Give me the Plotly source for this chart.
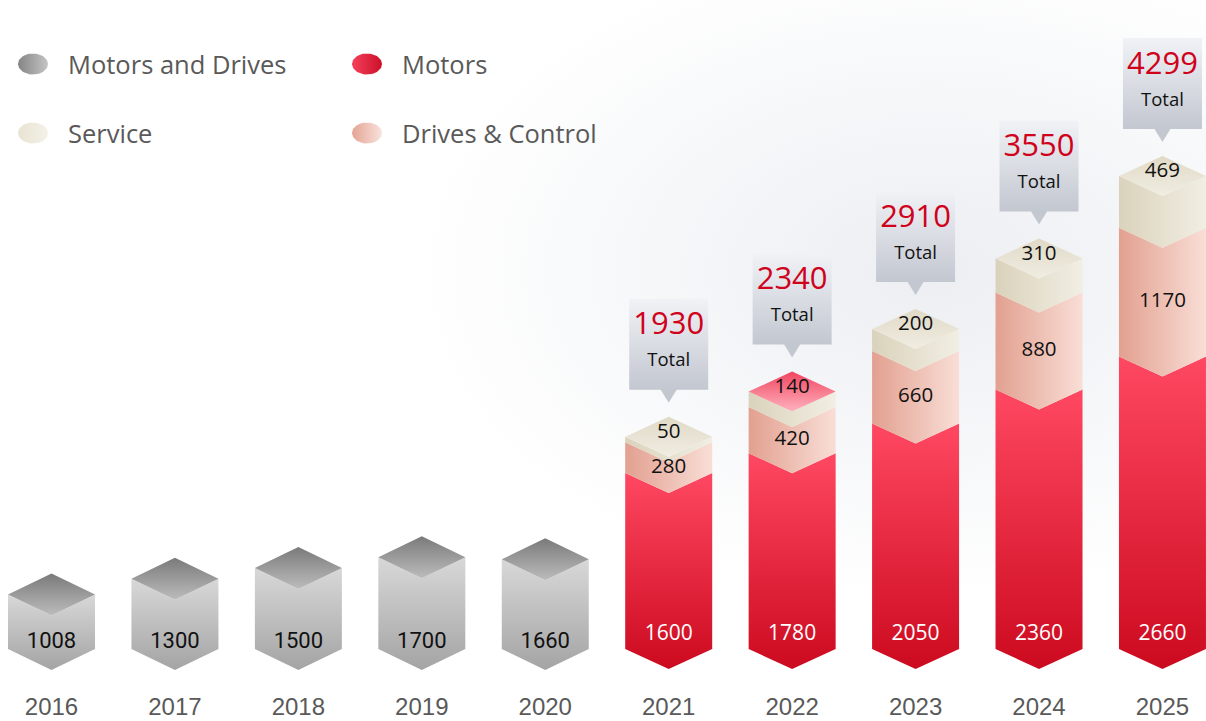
import numpy as np
import plotly.graph_objects as go

# ---------------- data ----------------
years = ["2016", "2017", "2018", "2019", "2020", "2021", "2022", "2023", "2024", "2025"]
md_years = ["2016", "2017", "2018", "2019", "2020"]
md_values = [1008, 1300, 1500, 1700, 1660]          # Motors and Drives
seg_years = ["2021", "2022", "2023", "2024", "2025"]
motors = [1600, 1780, 2050, 2360, 2660]
drives = [280, 420, 660, 880, 1170]                 # Drives & Control
service = [50, 140, 200, 310, 469]
totals = [1930, 2340, 2910, 3550, 4299]
legend_labels = ["Motors and Drives", "Motors", "Service", "Drives & Control"]
total_word = "Total"

# ---------------- geometry / style ----------------
W, H = 1206, 721
X0_PX, DX_PX = 51.5, 123.44        # first category centre, spacing (px)
BAR_W_PX = 87
BASE_PX = 649                      # pixel row of value 0
KG, KR = 0.054, 0.11               # px per unit (grey cubes / red stacks)
DEPTH_PX = 20

hw = BAR_W_PX / 2 / DX_PX
dg = 21 / KG
dr = DEPTH_PX / KR

GREY_BODY = [[0, "#a4a4a4"], [1, "#d8d8d8"]]
GREY_TOP = [[0, "#bcbcbc"], [1, "#7a7a7a"]]
RED_BODY = [[0, "#cc0a1f"], [1, "#ff4862"]]
DRV = [[0, "#e2a090"], [1, "#f9ded6"]]
SRV = [[0, "#dad2bb"], [1, "#f1eee3"]]
SRV_TOP = [[0, "#f0ede2"], [1, "#e0d9c6"]]
PINK_TOP = [[0, "#ffb3bf"], [1, "#f0455f"]]
BOX = [[0, "#c3c7d0"], [0.13, "#c3c7d0"], [1, "#f0f2f6"]]

FONT_MAIN = "Open Sans, Segoe UI, sans-serif"

fig = go.Figure()


def poly(xs, ys, xaxis, yaxis, grad, gtype="vertical"):
    fig.add_trace(go.Scatter(
        x=xs, y=ys, xaxis=xaxis, yaxis=yaxis, mode="lines", fill="toself",
        line=dict(width=0, color="rgba(0,0,0,0)"),
        fillgradient=dict(type=gtype, colorscale=grad),
        hoverinfo="skip", showlegend=False))


def chevron(xc, lo, hi, d):
    xs = [xc - hw, xc, xc + hw, xc + hw, xc, xc - hw, xc - hw]
    ys = [lo, lo - d, lo, hi, hi - d, hi, lo]
    return xs, ys


def rhombus(xc, lvl, d):
    xs = [xc - hw, xc, xc + hw, xc, xc - hw]
    ys = [lvl, lvl + d, lvl, lvl - d, lvl]
    return xs, ys


def text(xs, ys, txt, xaxis, yaxis, size, color, family=FONT_MAIN):
    fig.add_trace(go.Scatter(
        x=xs, y=ys, xaxis=xaxis, yaxis=yaxis, mode="text", text=txt,
        textposition="middle center",
        textfont=dict(size=size, color=color, family=family),
        hoverinfo="skip", showlegend=False))


def ellipse(cx, cy, rx, ry, n=60):
    t = np.linspace(0, 2 * np.pi, n)
    return list(cx + rx * np.cos(t)), list(cy + ry * np.sin(t))


# ---------------- background glow (pixel axes) ----------------
gx, gy = ellipse(930, 270, 520, 330)
poly(gx, gy, "x", "y", [[0, "#eceef2"], [1, "#ffffff"]], "radial")

# ---------------- legend (pixel axes) ----------------
leg_pos = [(33, 64), (367, 64), (33, 133), (367, 133)]
leg_grad = [
    [[0, "#858585"], [1, "#c4c4c4"]],
    [[0, "#f5405c"], [1, "#cc1028"]],
    [[0, "#e8e3d3"], [1, "#f4f1e8"]],
    [[0, "#e4a494"], [1, "#f9e2dc"]],
]
for (cx, cy), g in zip(leg_pos, leg_grad):
    ex, ey = ellipse(cx, cy, 15, 10.5)
    poly(ex, ey, "x", "y", g, "horizontal")
for (cx, cy), lab in zip(leg_pos, legend_labels):
    fig.add_annotation(x=cx + 33, y=cy, xref="x", yref="y", text=lab,
                       showarrow=False, xanchor="left", yanchor="middle",
                       font=dict(size=25.5, color="#595959", family=FONT_MAIN))

# ---------------- grey cubes ----------------
for yr, v in zip(md_years, md_values):
    xc = years.index(yr)
    bx, by = chevron(xc, 0, v, dg)
    poly(bx, by, "x2", "y2", GREY_BODY)
    tx, ty = rhombus(xc, v, dg)
    poly(tx, ty, "x2", "y2", GREY_TOP)
text([years.index(y) for y in md_years], [7 / KG] * len(md_years),
     [str(v) for v in md_values], "x2", "y2", 22, "#111111", "Roboto, Arial, sans-serif")

# ---------------- red stacks ----------------
for i, yr in enumerate(seg_years):
    xc = years.index(yr)
    m, d, s = motors[i], drives[i], service[i]
    top = m + d + s
    bx, by = chevron(xc, 0, m, dr)
    poly(bx, by, "x2", "y3", RED_BODY)
    bx, by = chevron(xc, m, m + d, dr)
    poly(bx, by, "x2", "y3", DRV, "horizontal")
    bx, by = chevron(xc, m + d, top, dr)
    poly(bx, by, "x2", "y3", SRV, "horizontal")
    tx, ty = rhombus(xc, top, dr)
    poly(tx, ty, "x2", "y3", PINK_TOP if yr == "2022" else SRV_TOP)

    # callout
    tip = top + dr + 14 / KR
    bb = tip + 13 / KR
    bt = bb + 91 / KR
    bw = 39.5 / DX_PX
    pw = 8 / DX_PX
    poly([xc - bw, xc - pw, xc, xc + pw, xc + bw, xc + bw, xc - bw, xc - bw],
         [bb, bb, tip, bb, bb, bt, bt, bb], "x2", "y3", BOX)
    text([xc], [bt - 28 / KR], [str(totals[i])], "x2", "y3", 31, "#d0021b")
    text([xc], [bt - 63 / KR], [total_word], "x2", "y3", 18.5, "#111111")

seg_x = [years.index(y) for y in seg_years]
text(seg_x, [14 / KR] * 5, [str(v) for v in motors], "x2", "y3", 21, "#ffffff")
text(seg_x, [m + d / 2 - 10 / KR for m, d in zip(motors, drives)],
     [str(v) for v in drives], "x2", "y3", 20.5, "#111111")
text(seg_x, [m + d + s + 4 / KR for m, d, s in zip(motors, drives, service)],
     [str(v) for v in service], "x2", "y3", 20.5, "#111111")

# ---------------- year labels ----------------
text(list(range(len(years))), [(BASE_PX - 709) / KR] * len(years), years,
     "x2", "y3", 24, "#595959", "Liberation Sans, Arial, sans-serif")

# ---------------- layout ----------------
ax_common = dict(visible=False, fixedrange=True, showgrid=False, zeroline=False)
fig.update_layout(
    width=W, height=H, margin=dict(l=0, r=0, t=0, b=0),
    paper_bgcolor="#ffffff", plot_bgcolor="#ffffff", showlegend=False,
    xaxis=dict(range=[0, W], **ax_common),
    yaxis=dict(range=[H, 0], **ax_common),
    xaxis2=dict(range=[-X0_PX / DX_PX, (W - X0_PX) / DX_PX], overlaying="x",
                anchor="y2", **ax_common),
    yaxis2=dict(range=[(BASE_PX - H) / KG, BASE_PX / KG], overlaying="y",
                anchor="x2", **ax_common),
    yaxis3=dict(range=[(BASE_PX - H) / KR, BASE_PX / KR], overlaying="y",
                anchor="x2", **ax_common),
)

fig.write_html("out.html", config={"displayModeBar": False},
               post_script="document.body.style.margin='0';")
